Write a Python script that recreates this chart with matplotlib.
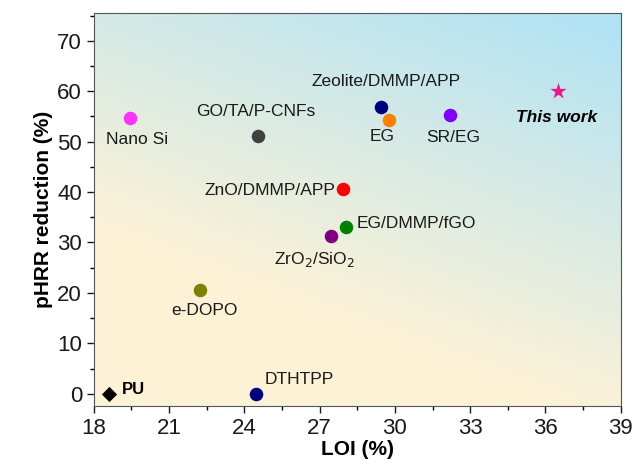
import numpy as np
import matplotlib
matplotlib.use("Agg")
from matplotlib import pyplot as plt
from matplotlib.colors import LinearSegmentedColormap

plt.rcParams['font.family'] = ['Liberation Sans', 'DejaVu Sans']

# dati
names = ["Nano Si", "GO/TA/P-CNFs", "Zeolite/DMMP/APP", "EG", "SR/EG",
         "ZnO/DMMP/APP", "EG/DMMP/fGO", "ZrO$_2$/SiO$_2$", "e-DOPO", "DTHTPP"]
loi = [19.45, 24.55, 29.45, 29.75, 32.2, 27.95, 28.05, 27.45, 22.25, 24.45]
phrr = [54.7, 51.1, 56.8, 54.2, 55.2, 40.6, 33.0, 31.2, 20.6, 0.0]
colors = ["#ff33ff", "#404040", "#00007f", "#ff8000", "#8000ff",
          "#ff0000", "#008000", "#800080", "#808000", "#00007f"]

pu_loi, pu_phrr = 18.6, 0.0
tw_loi, tw_phrr = 36.5, 60.0

# offset etichette (pixel) e allineamento
offs = [(7, -22, 'center'), (-2, 25, 'center'), (5, 26, 'center'),
        (-6, -16, 'center'), (3, -22, 'center'), (-8, -1, 'right'),
        (11, 4, 'left'), (-17, -23, 'center'), (4, -21, 'center'),
        (9, 14, 'left')]

fig = plt.figure(figsize=(6.34, 4.67), dpi=100)
ax = fig.add_axes([0.148, 0.131, 0.831, 0.841])

# sfondo sfumato
u, v = np.meshgrid(np.linspace(0, 1, 200), np.linspace(0, 1, 200))
t = 0.5 * u + v
cmap = LinearSegmentedColormap.from_list("bg", [(0, "#fdf2d6"), (0.3, "#fdf2d6"), (1, "#aee2f5")])
ax.imshow(t, origin='lower', extent=[0, 1, 0, 1], transform=ax.transAxes,
          cmap=cmap, vmin=0, vmax=1.5, aspect='auto', zorder=0)

for i in range(len(names)):
    ax.scatter(loi[i], phrr[i], s=95, color=colors[i], zorder=3, linewidths=0)
    dx, dy, ha = offs[i]
    ax.annotate(names[i], (loi[i], phrr[i]), xytext=(dx, dy), textcoords='offset pixels',
                ha=ha, va='center', fontsize=12.5, color='#1a1a1a')

ax.scatter(pu_loi, pu_phrr, marker='D', s=60, color='black', zorder=3, linewidths=0)
ax.annotate("PU", (pu_loi, pu_phrr), xytext=(13, 4), textcoords='offset pixels',
            ha='left', va='center', fontsize=12, fontweight='bold')
ax.scatter(tw_loi, tw_phrr, marker='*', s=150, color='#e8198c', zorder=3, linewidths=0)
ax.annotate("This work", (tw_loi, tw_phrr), xytext=(-1, -26), textcoords='offset pixels',
            ha='center', va='center', fontsize=12.5, fontweight='bold', style='italic')

ax.set_xlim(18, 39)
ax.set_ylim(-2.4, 75.5)
ax.set_xticks(np.arange(18, 40, 3))
ax.set_yticks(np.arange(0, 71, 10))
ax.xaxis.set_minor_locator(plt.MultipleLocator(1.5))
ax.yaxis.set_minor_locator(plt.MultipleLocator(5))
ax.tick_params(which='major', direction='out', length=5, width=1, labelsize=16, colors='#1a1a1a')
ax.tick_params(which='minor', direction='out', length=3, width=1)
for s in ax.spines.values():
    s.set_color('#555555')
ax.set_xlabel("LOI (%)", fontsize=15, fontweight='bold', labelpad=1)
ax.set_ylabel("pHRR reduction (%)", fontsize=15, fontweight='bold', labelpad=3)

fig.savefig("out.png", dpi=100)
